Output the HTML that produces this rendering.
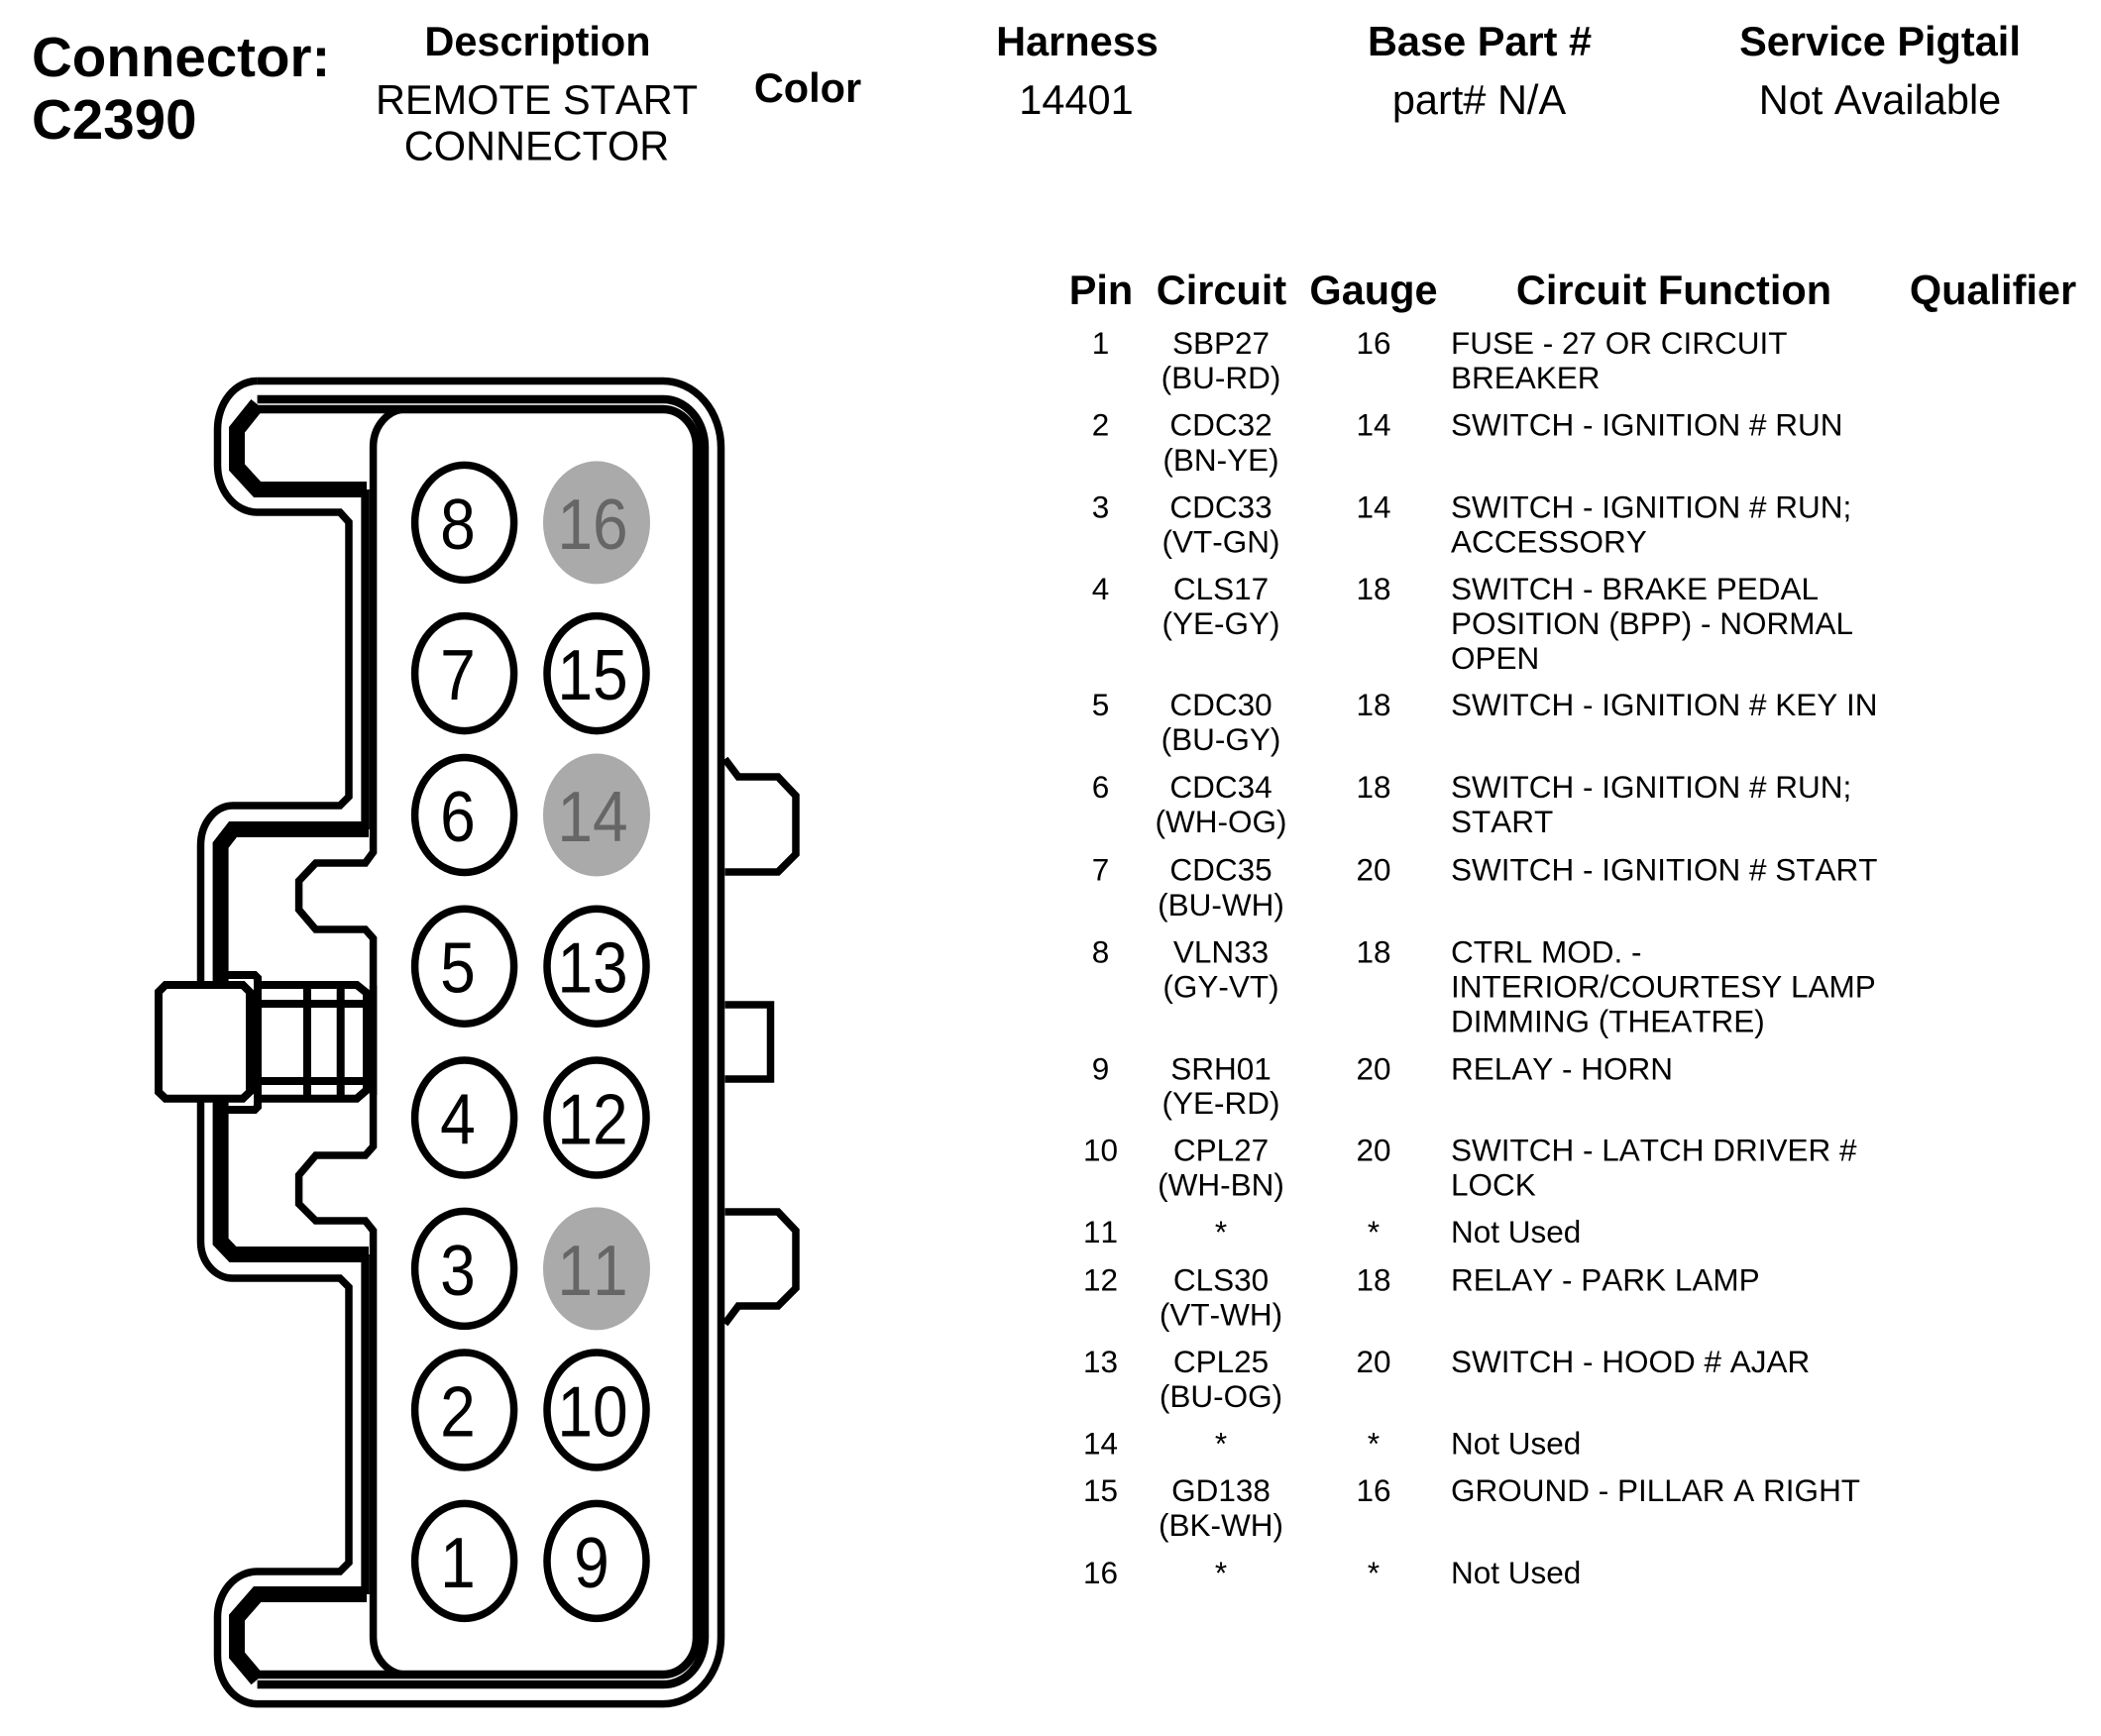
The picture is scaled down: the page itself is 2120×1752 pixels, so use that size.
<!DOCTYPE html>
<html><head><meta charset="utf-8"><style>
html,body{margin:0;padding:0;background:#fff;width:2120px;height:1752px;overflow:hidden}
svg{display:block}
text{font-family:"Liberation Sans",Arial,sans-serif;fill:#000;font-kerning:none}
.h{font-weight:700;font-size:41.5px;text-anchor:middle}
.v{font-size:41.5px;text-anchor:middle}
.p{font-size:31.5px;text-anchor:middle}
.f{font-size:31.5px}
.n{font-size:72px;text-anchor:middle}
.l{fill:none;stroke:#000;stroke-linejoin:miter;stroke-miterlimit:4}
</style></head><body>
<svg width="2120" height="1752" viewBox="0 0 2120 1752" xmlns="http://www.w3.org/2000/svg">
<rect width="2120" height="1752" fill="#fff"/>

<!-- Connector outline -->
<g class="l" stroke-width="7.5" fill="none" stroke="#000">
<path d="M259.6 384.5H669A58.5 67 0 0 1 727.5 451.5V1652.7A58.5 67 0 0 1 669 1719.6H259.6A40 49 0 0 1 219.5 1670.5V1632.6A40 46 0 0 1 259.6 1586H343L352 1577V1299L343 1290H235A32.5 37 0 0 1 202.5 1253V1112"/>
<path d="M202.5 992V853A32.5 40 0 0 1 235 813H343L352 804V527L343 517H259.6A40 48 0 0 1 219.5 469.4V433.7A40 49 0 0 1 259.6 384.5"/>
<path d="M259.6 403H669A41.5 48 0 0 1 711 451.5V1652.7A41.5 48 0 0 1 669 1700H259.6" stroke-width="8.5"/>
<path d="M259.6 413H669A34 38 0 0 1 703 451.5V1652.7A34 38 0 0 1 669 1690H259.6" stroke-width="8.5"/>
<path d="M370 494H259.6L239 471.6V433.7L259.6 408" stroke-width="16"/>
<path d="M370 1609H259.6L239 1632.6V1670.5L259.6 1695" stroke-width="16"/>
<path d="M410 413A33.4 38 0 0 0 376.6 451.5V860L368.6 871H318.6L301.6 889V918L318.6 938H368.6L376.6 947V1157L368.6 1166H318.6L301.6 1186V1215L318.6 1232H368.6L376.6 1242V1652.7A33.4 38 0 0 0 410 1690"/>
<path d="M368.6 494V837M368.6 1266V1609" stroke-width="8.5"/>
<path d="M372 837H235L222.6 853V992M222.6 1112V1253L235 1266H372" stroke-width="16"/>
<!-- tabs -->
<path d="M731.5 766L745 784H785L803 803V862L785 880H731.5"/>
<path d="M731.5 1014H777.5V1089H731.5"/>
<path d="M731.5 1223H785L803 1242V1300L785 1318H745L731.5 1336"/>
<!-- plug -->
<path d="M167 994H245L252 1001V1102L245 1108.7H167L160 1102V1001Z" stroke-width="8"/>
<path d="M230 984H257L260 987V1117L257 1120H230" stroke-width="8"/>
<path d="M260 994H360L370 1002V1100L360 1108.7H260" stroke-width="8"/>
<path d="M260 1013H370M260 1091H370M310 994V1108.7M343.7 994V1108.7" stroke-width="8"/>
<path d="M376.6 995V1105"/>
</g>

<!-- Pins -->
<g fill="#fff" stroke="#000" stroke-width="7.5">
<ellipse cx="468.6" cy="527.4" rx="50" ry="58"/>
<ellipse cx="468.6" cy="679.6" rx="50" ry="58"/>
<ellipse cx="468.6" cy="822.5" rx="50" ry="58"/>
<ellipse cx="468.6" cy="975.2" rx="50" ry="58"/>
<ellipse cx="468.6" cy="1128" rx="50" ry="58"/>
<ellipse cx="468.6" cy="1280.4" rx="50" ry="58"/>
<ellipse cx="468.6" cy="1423" rx="50" ry="58"/>
<ellipse cx="468.6" cy="1575.4" rx="50" ry="58"/>
<ellipse cx="602" cy="679.6" rx="50" ry="58"/>
<ellipse cx="602" cy="975.2" rx="50" ry="58"/>
<ellipse cx="602" cy="1128" rx="50" ry="58"/>
<ellipse cx="602" cy="1423" rx="50" ry="58"/>
<ellipse cx="602" cy="1575.4" rx="50" ry="58"/>
</g>
<g fill="#aaaaaa">
<ellipse cx="602" cy="527.4" rx="54" ry="62"/>
<ellipse cx="602" cy="822.5" rx="54" ry="62"/>
<ellipse cx="602" cy="1280.4" rx="54" ry="62"/>
</g>
<g class="num">
<text class="n" transform="translate(462,554) scale(.89,1)">8</text>
<text class="n" transform="translate(462,706) scale(.89,1)">7</text>
<text class="n" transform="translate(462,849) scale(.89,1)">6</text>
<text class="n" transform="translate(462,1001.7) scale(.89,1)">5</text>
<text class="n" transform="translate(462,1154.5) scale(.89,1)">4</text>
<text class="n" transform="translate(462,1307) scale(.89,1)">3</text>
<text class="n" transform="translate(462,1449.5) scale(.89,1)">2</text>
<text class="n" transform="translate(462,1602) scale(.89,1)">1</text>
<text class="n" transform="translate(598,554) scale(.89,1)" style="fill:#666">16</text>
<text class="n" transform="translate(598,706) scale(.89,1)">15</text>
<text class="n" transform="translate(598,849) scale(.89,1)" style="fill:#666">14</text>
<text class="n" transform="translate(598,1001.7) scale(.89,1)">13</text>
<text class="n" transform="translate(598,1154.5) scale(.89,1)">12</text>
<text class="n" transform="translate(598,1307) scale(.89,1)" style="fill:#666">11</text>
<text class="n" transform="translate(598,1449.5) scale(.89,1)">10</text>
<text class="n" transform="translate(597,1602) scale(.89,1)">9</text>
</g>

<!-- Header -->
<text x="32" y="77" font-size="56.5" font-weight="700">Connector:</text>
<text x="32" y="140" font-size="56.5" font-weight="700">C2390</text>
<text class="h" x="542.5" y="56">Description</text>
<text class="v" x="541.5" y="115">REMOTE START</text>
<text class="v" x="541.5" y="161.5">CONNECTOR</text>
<text class="h" x="815" y="103">Color</text>
<text class="h" x="1087" y="56">Harness</text>
<text class="v" x="1086" y="115">14401</text>
<text class="h" x="1493" y="56">Base Part #</text>
<text class="v" x="1492.5" y="115">part# N/A</text>
<text class="h" x="1897" y="56">Service Pigtail</text>
<text class="v" x="1897" y="115">Not Available</text>

<!-- Table header -->
<text class="h" x="1111" y="307">Pin</text>
<text class="h" x="1232.5" y="307">Circuit</text>
<text class="h" x="1386" y="307">Gauge</text>
<text class="h" x="1689" y="307">Circuit Function</text>
<text class="h" x="2011" y="307">Qualifier</text>

<!-- Rows -->
<text class="p" x="1110.5" y="357">1</text><text class="p" x="1232" y="357">SBP27</text><text class="p" x="1232" y="392">(BU-RD)</text><text class="p" x="1386" y="357">16</text><text class="f" x="1464" y="357">FUSE - 27 OR CIRCUIT</text><text class="f" x="1464" y="392">BREAKER</text>
<text class="p" x="1110.5" y="439.5">2</text><text class="p" x="1232" y="439.5">CDC32</text><text class="p" x="1232" y="475">(BN-YE)</text><text class="p" x="1386" y="439.5">14</text><text class="f" x="1464" y="439.5">SWITCH - IGNITION # RUN</text>
<text class="p" x="1110.5" y="522.5">3</text><text class="p" x="1232" y="522.5">CDC33</text><text class="p" x="1232" y="557.5">(VT-GN)</text><text class="p" x="1386" y="522.5">14</text><text class="f" x="1464" y="522.5">SWITCH - IGNITION # RUN;</text><text class="f" x="1464" y="557.5">ACCESSORY</text>
<text class="p" x="1110.5" y="605">4</text><text class="p" x="1232" y="605">CLS17</text><text class="p" x="1232" y="640">(YE-GY)</text><text class="p" x="1386" y="605">18</text><text class="f" x="1464" y="605">SWITCH - BRAKE PEDAL</text><text class="f" x="1464" y="640">POSITION (BPP) - NORMAL</text><text class="f" x="1464" y="675">OPEN</text>
<text class="p" x="1110.5" y="722">5</text><text class="p" x="1232" y="722">CDC30</text><text class="p" x="1232" y="757">(BU-GY)</text><text class="p" x="1386" y="722">18</text><text class="f" x="1464" y="722">SWITCH - IGNITION # KEY IN</text>
<text class="p" x="1110.5" y="805">6</text><text class="p" x="1232" y="805">CDC34</text><text class="p" x="1232" y="840">(WH-OG)</text><text class="p" x="1386" y="805">18</text><text class="f" x="1464" y="805">SWITCH - IGNITION # RUN;</text><text class="f" x="1464" y="840">START</text>
<text class="p" x="1110.5" y="888.3">7</text><text class="p" x="1232" y="888.3">CDC35</text><text class="p" x="1232" y="924">(BU-WH)</text><text class="p" x="1386" y="888.3">20</text><text class="f" x="1464" y="888.3">SWITCH - IGNITION # START</text>
<text class="p" x="1110.5" y="971.7">8</text><text class="p" x="1232" y="971.7">VLN33</text><text class="p" x="1232" y="1006.7">(GY-VT)</text><text class="p" x="1386" y="971.7">18</text><text class="f" x="1464" y="971.7">CTRL MOD. -</text><text class="f" x="1464" y="1006.7">INTERIOR/COURTESY LAMP</text><text class="f" x="1464" y="1041.7">DIMMING (THEATRE)</text>
<text class="p" x="1110.5" y="1089.3">9</text><text class="p" x="1232" y="1089.3">SRH01</text><text class="p" x="1232" y="1124">(YE-RD)</text><text class="p" x="1386" y="1089.3">20</text><text class="f" x="1464" y="1089.3">RELAY - HORN</text>
<text class="p" x="1110.5" y="1171.7">10</text><text class="p" x="1232" y="1171.7">CPL27</text><text class="p" x="1232" y="1206.7">(WH-BN)</text><text class="p" x="1386" y="1171.7">20</text><text class="f" x="1464" y="1171.7">SWITCH - LATCH DRIVER #</text><text class="f" x="1464" y="1206.7">LOCK</text>
<text class="p" x="1110.5" y="1254">11</text><text class="p" x="1232" y="1254">*</text><text class="p" x="1386" y="1254">*</text><text class="f" x="1464" y="1254">Not Used</text>
<text class="p" x="1110.5" y="1302.3">12</text><text class="p" x="1232" y="1302.3">CLS30</text><text class="p" x="1232" y="1337.7">(VT-WH)</text><text class="p" x="1386" y="1302.3">18</text><text class="f" x="1464" y="1302.3">RELAY - PARK LAMP</text>
<text class="p" x="1110.5" y="1385">13</text><text class="p" x="1232" y="1385">CPL25</text><text class="p" x="1232" y="1420">(BU-OG)</text><text class="p" x="1386" y="1385">20</text><text class="f" x="1464" y="1385">SWITCH - HOOD # AJAR</text>
<text class="p" x="1110.5" y="1467.3">14</text><text class="p" x="1232" y="1467.3">*</text><text class="p" x="1386" y="1467.3">*</text><text class="f" x="1464" y="1467.3">Not Used</text>
<text class="p" x="1110.5" y="1515">15</text><text class="p" x="1232" y="1515">GD138</text><text class="p" x="1232" y="1550">(BK-WH)</text><text class="p" x="1386" y="1515">16</text><text class="f" x="1464" y="1515">GROUND - PILLAR A RIGHT</text>
<text class="p" x="1110.5" y="1598">16</text><text class="p" x="1232" y="1598">*</text><text class="p" x="1386" y="1598">*</text><text class="f" x="1464" y="1598">Not Used</text>
</svg>
</body></html>
